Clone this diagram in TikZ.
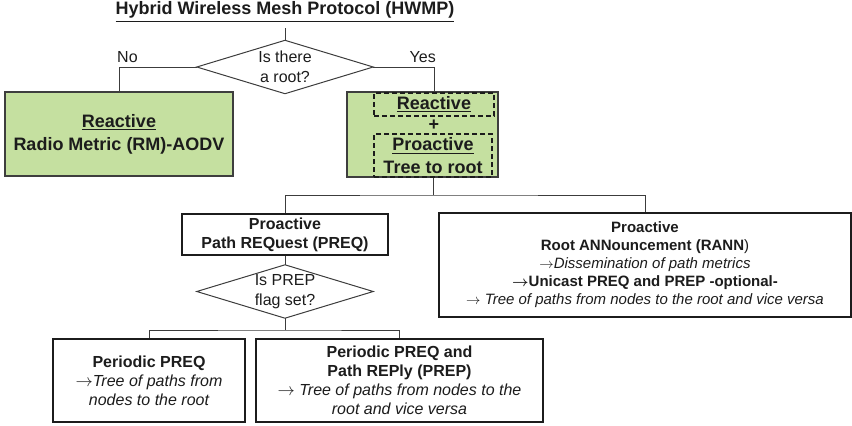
\documentclass[tikz,border=0pt]{standalone}
\usepackage{amsmath}
\usepackage{fontspec}
\setmainfont{Liberation Sans}
\newcommand{\toarrow}{\ensuremath{\rightarrow}}
\newcommand{\boldarrow}{\ensuremath{\boldsymbol{\rightarrow}}}
\definecolor{leaf}{RGB}{197,224,160}
\definecolor{ink}{RGB}{28,28,28}
\definecolor{wirecol}{RGB}{60,60,60}
\begin{document}
\begin{tikzpicture}[x=1pt,y=-1pt,
  box/.style={draw=ink, line width=2pt, fill=white, inner sep=0pt, align=center, text=ink},
  greenbox/.style={draw=ink!85, line width=1.3pt, fill=leaf, inner sep=0pt, align=center, text=ink},
  dashbox/.style={draw=ink, line width=1.3pt, dash pattern=on 5pt off 3pt, inner sep=0pt, align=center, text=ink},
  wire/.style={draw=wirecol, line width=1pt},
  question/.style={inner sep=0pt, align=center, text=ink, font=\fontsize{16}{20}\selectfont},
  branch/.style={inner sep=0pt, text=ink, font=\fontsize{16}{20}\selectfont},
  bigbold/.style={font=\bfseries\fontsize{18}{23}\selectfont},
  midbold/.style={font=\bfseries\fontsize{16}{19}\selectfont},
  smallbold/.style={font=\bfseries\fontsize{15}{18}\selectfont},
]
\useasboundingbox (0,0) rectangle (852,426);

% title
\node[bigbold, text=ink, inner sep=0pt] (title) at (285,12) {\underline{Hybrid Wireless Mesh Protocol (HWMP)}};
\coordinate (tstem) at (285,28);

% first decision
\node[question, minimum width=176pt, minimum height=53pt] (root) at (285,67) {Is there\\a root?};
\draw[wire] (root.west) -- (root.north) -- (root.east) -- (root.south) -- cycle;
\node[branch, anchor=west] (no) at (117,57) {No};
\node[branch, anchor=east] (yes) at (436,57) {Yes};

% reactive only
\node[greenbox, bigbold, minimum width=228pt, minimum height=84pt] (rm) at (119,134) {\underline{Reactive}\\Radio Metric (RM)-AODV};

% hybrid mode
\node[greenbox, minimum width=151pt, minimum height=85pt] (hyb) at (422.5,134.5) {};
\node[dashbox, bigbold, minimum width=120pt, minimum height=23pt] (re) at (434,104.5) {\underline{Reactive}};
\node[bigbold, text=ink, inner sep=0pt] (plus) at (434,125) {+};
\node[dashbox, bigbold, minimum width=118pt, minimum height=43pt] (pro) at (433,155.5) {\underline{Proactive}\\Tree to root};

% proactive variants
\node[box, midbold, minimum width=206pt, minimum height=41pt] (preq) at (285,234.5) {Proactive\\Path REQuest (PREQ)};
\node[box, smallbold, minimum width=412pt, minimum height=104pt] (rann) at (645,265)
  {Proactive\\Root ANNouncement (RANN\textmd{)}\\
   {\mdseries\itshape \toarrow Dissemination of path metrics}\\
   \boldarrow Unicast PREQ and PREP -optional-\\
   {\mdseries\itshape \toarrow{} Tree of paths from nodes to the root and vice versa}};

% second decision
\node[question, minimum width=176pt, minimum height=53pt] (flag) at (285,291.5) {Is PREP\\flag set?};
\draw[wire] (flag.west) -- (flag.north) -- (flag.east) -- (flag.south) -- cycle;

% outcomes
\node[box, midbold, minimum width=192pt, minimum height=83pt] (pp) at (149,380.5)
  {Periodic PREQ\\{\mdseries\itshape \toarrow Tree of paths from}\\{\mdseries\itshape nodes to the root}};
\node[box, midbold, minimum width=287pt, minimum height=83pt] (ppp) at (399.5,380.5)
  {Periodic PREQ and\\Path REPly (PREP)\\{\mdseries\itshape \toarrow{} Tree of paths from nodes to the}\\{\mdseries\itshape root and vice versa}};

% connectors
\draw[wire] (tstem) -- (root.north);
\draw[wire] (root.west) -| (rm.north);
\draw[wire] (root.east) -| (re.north);
\coordinate (fork) at (433,195);
\draw[wire] (pro.south) -- (fork);
\draw[wire] (preq.north) |- (fork) -| (rann.north);
\draw[wire] (preq.south) -- (flag.north);
\coordinate (fork2) at (285,330);
\draw[wire] (flag.south) -- (fork2);
\draw[wire] (pp.north) |- (fork2) -| (ppp.north);
\end{tikzpicture}
\end{document}
